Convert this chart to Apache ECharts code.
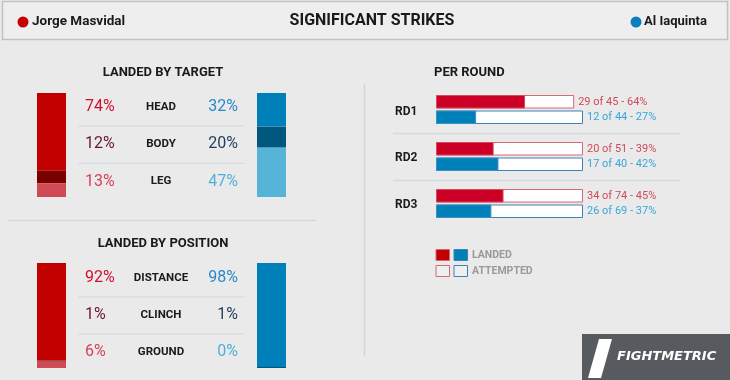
<!DOCTYPE html>
<html><head><meta charset="utf-8">
<script src="https://cdn.jsdelivr.net/npm/echarts@6/dist/echarts.min.js"></script>
<style>html,body{margin:0;padding:0;background:#eaeaea}#c{width:730px;height:380px}</style>
</head><body><div id="c"></div>
<script>
// ---------- DATA ----------
const fighterNames = ['Jorge Masvidal', 'Al Iaquinta'];
const chartTitle = 'SIGNIFICANT STRIKES';
const targetTitle = 'LANDED BY TARGET';
const targetCats = ['HEAD', 'BODY', 'LEG'];
const targetRed = [74, 12, 13];
const targetBlue = [32, 20, 47];
const positionTitle = 'LANDED BY POSITION';
const positionCats = ['DISTANCE', 'CLINCH', 'GROUND'];
const positionRed = [92, 1, 6];
const positionBlue = [98, 1, 0];
const roundTitle = 'PER ROUND';
const rounds = ['RD1', 'RD2', 'RD3'];
const redLanded = [29, 20, 34];
const redAttempted = [45, 51, 74];
const blueLanded = [12, 17, 26];
const blueAttempted = [44, 40, 69];
const redAttemptedBar = [94, 100, 100];   // drawn length of attempted bar (% of track)
const blueAttemptedBar = [100, 100, 100];
const legendLabels = ['LANDED', 'ATTEMPTED'];

// ---------- STYLE ----------
const RED = ['#c20000', '#7a0000', '#cf4a55'];
const BLUE = ['#0080b8', '#00587e', '#56b4d8'];
const RED_TXT = ['#d0102e', '#6a1530', '#d8405a'];
const BLUE_TXT = ['#2a88c8', '#1f3d5c', '#4fb0dc'];
const FONT = 'Roboto';

const chart = echarts.init(document.getElementById('c'));
const grids = [], xAxes = [], yAxes = [], series = [], graphics = [];

function pct(l, a) { return Math.floor(l / a * 100); }

// vertical stacked bars
function stackBar(left, top, height, vals, colors) {
  const gi = grids.length;
  grids.push({ left: left, top: top, width: 29, height: height });
  xAxes.push({ gridIndex: gi, type: 'category', data: [''], show: false });
  const total = vals.reduce((a, b) => a + b, 0);
  yAxes.push({ gridIndex: gi, type: 'value', min: 0, max: total, inverse: true, show: false });
  vals.forEach((v, i) => {
    series.push({ type: 'bar', xAxisIndex: gi, yAxisIndex: gi, stack: 's' + gi, barWidth: '100%',
      data: [v], itemStyle: { color: colors[i] }, silent: true, animation: false });
  });
}
stackBar(37, 93, 104, targetRed, RED);
stackBar(257, 93, 104, targetBlue, BLUE);
stackBar(37, 263, 105, positionRed, RED);
stackBar(257, 263, 105, positionBlue, BLUE);

// per round bars
const roundTops = [94, 141, 188];
rounds.forEach((r, k) => {
  const gi = grids.length;
  grids.push({ left: 436, top: roundTops[k], width: 147, height: 31 });
  xAxes.push({ gridIndex: gi, type: 'value', min: 0, max: 100, show: false });
  yAxes.push({ gridIndex: gi, type: 'category', data: fighterNames, inverse: true, show: false });
  const rp = pct(redLanded[k], redAttempted[k]);
  const bp = pct(blueLanded[k], blueAttempted[k]);
  series.push({ type: 'bar', xAxisIndex: gi, yAxisIndex: gi, barWidth: 13.5, barGap: '-100%', animation: false, silent: true,
    data: [
      { value: redAttemptedBar[k], itemStyle: { color: '#ffffff', borderColor: '#d46a74', borderWidth: 1 },
        label: { show: true, position: 'right', distance: 4, color: '#cf4a5a', fontFamily: FONT, fontSize: 11,
          formatter: redLanded[k] + ' of ' + redAttempted[k] + ' - ' + rp + '%' } },
      { value: blueAttemptedBar[k], itemStyle: { color: '#ffffff', borderColor: '#3f82b8', borderWidth: 1 },
        label: { show: true, position: 'right', distance: 4, color: '#3aa6da', fontFamily: FONT, fontSize: 11,
          formatter: blueLanded[k] + ' of ' + blueAttempted[k] + ' - ' + bp + '%' } }
    ] });
  series.push({ type: 'bar', xAxisIndex: gi, yAxisIndex: gi, barWidth: 13.5, barGap: '-100%', animation: false, silent: true, z: 3,
    data: [
      { value: redAttemptedBar[k] * redLanded[k] / redAttempted[k], itemStyle: { color: '#cc0026', borderColor: '#d84a5c', borderWidth: 1 } },
      { value: blueAttemptedBar[k] * blueLanded[k] / blueAttempted[k], itemStyle: { color: '#0080b8', borderColor: '#3c90c4', borderWidth: 1 } }
    ] });
});

// ---------- TEXT / DECOR ----------
function txt(t, x, y, fill, font, align) {
  graphics.push({ type: 'text', silent: true, style: { text: t, x: x, y: y, fill: fill, font: font,
    textAlign: align || 'left', textVerticalAlign: 'middle', align: align || 'left', verticalAlign: 'middle' } });
}
function line(x1, y1, x2, y2, c, w) {
  graphics.push({ type: 'line', silent: true, shape: { x1: x1, y1: y1, x2: x2, y2: y2 }, style: { stroke: c, lineWidth: w || 1 } });
}
// header
graphics.push({ type: 'rect', silent: true, shape: { x: 2.5, y: 1.5, width: 725, height: 38 }, style: { fill: '#eeeeee', stroke: '#c2c2c2', lineWidth: 1.5 } });
graphics.push({ type: 'circle', silent: true, shape: { cx: 23, cy: 22, r: 5.5 }, style: { fill: '#c80000' } });
graphics.push({ type: 'circle', silent: true, shape: { cx: 636, cy: 22, r: 5.5 }, style: { fill: '#0a7fc0' } });
txt(fighterNames[0], 32, 22, '#1a1a1a', 'bold 13.5px ' + FONT);
txt(fighterNames[1], 644, 22, '#1a1a1a', 'bold 13px ' + FONT);
txt(chartTitle, 372, 21, '#1a1a1a', 'bold 16px ' + FONT, 'center');

// left panels
function panel(title, titleY, cats, redV, blueV, rowYs) {
  txt(title, 163, titleY, '#1a1a1a', 'bold 13px ' + FONT, 'center');
  cats.forEach((c, i) => {
    txt(redV[i] + '%', 85, rowYs[i], RED_TXT[i], '16px ' + FONT);
    txt(c, 161, rowYs[i], '#1a1a1a', 'bold 11.5px ' + FONT, 'center');
    txt(blueV[i] + '%', 238, rowYs[i], BLUE_TXT[i], '16px ' + FONT, 'right');
  });
  line(78, (rowYs[0] + rowYs[1]) / 2 + 0.5, 245, (rowYs[0] + rowYs[1]) / 2 + 0.5, '#d2d8df', 1);
  line(78, (rowYs[1] + rowYs[2]) / 2 + 0.5, 245, (rowYs[1] + rowYs[2]) / 2 + 0.5, '#d2d8df', 1);
}
panel(targetTitle, 73, targetCats, targetRed, targetBlue, [107, 144, 181.5]);
panel(positionTitle, 244, positionCats, positionRed, positionBlue, [278, 315, 352]);
line(8, 220.5, 316, 220.5, '#d6d9dc', 1.5);
line(364.5, 84, 364.5, 356, '#d0d6dc', 1.5);

// right panel
txt(roundTitle, 434, 73, '#1a1a1a', 'bold 13px ' + FONT);
const rdY = [112, 158, 205];
rounds.forEach((r, k) => txt(r, 395, rdY[k], '#1a1a1a', 'bold 12px ' + FONT));
line(393, 133.5, 680, 133.5, '#d6d9dc', 1.5);
line(393, 180.5, 680, 180.5, '#d6d9dc', 1.5);

// legend
graphics.push({ type: 'rect', silent: true, shape: { x: 436, y: 249.5, width: 13.5, height: 11 }, style: { fill: '#c20000', stroke: '#d46a74', lineWidth: 1 } });
graphics.push({ type: 'rect', silent: true, shape: { x: 454, y: 249.5, width: 13.5, height: 11 }, style: { fill: '#0080b8', stroke: '#3f82b8', lineWidth: 1 } });
graphics.push({ type: 'rect', silent: true, shape: { x: 436, y: 265.5, width: 13.5, height: 11 }, style: { fill: '#efefef', stroke: '#d46a74', lineWidth: 1 } });
graphics.push({ type: 'rect', silent: true, shape: { x: 454, y: 265.5, width: 13.5, height: 11 }, style: { fill: '#efefef', stroke: '#3f82b8', lineWidth: 1 } });
txt(legendLabels[0], 472, 255.5, '#9a9a9a', 'bold 10.5px ' + FONT);
txt(legendLabels[1], 472, 271.5, '#9a9a9a', 'bold 10.5px ' + FONT);

// logo
graphics.push({ type: 'rect', silent: true, shape: { x: 582, y: 334, width: 148, height: 46 }, style: { fill: '#575b5f' } });
graphics.push({ type: 'polygon', silent: true, shape: { points: [[599, 339], [612, 339], [601, 378], [588, 378]] }, style: { fill: '#ffffff' } });
txt('FIGHTMETRIC', 617, 357, '#ffffff', 'italic 900 13px "DejaVu Sans"');

chart.setOption({
  backgroundColor: '#eaeaea',
  animation: false,
  grid: grids, xAxis: xAxes, yAxis: yAxes, series: series,
  graphic: { elements: graphics }
});
</script></body></html>
